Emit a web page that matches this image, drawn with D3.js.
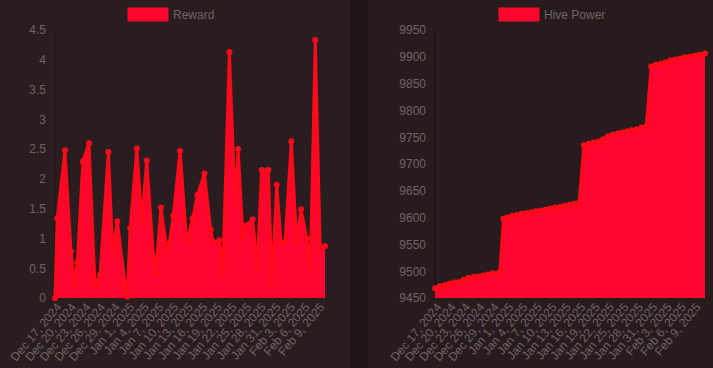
<!DOCTYPE html>
<html><head><meta charset="utf-8">
<script src="https://cdn.jsdelivr.net/npm/d3@7"></script>
<style>
html,body{margin:0;padding:0;background:#291c1f;}
svg{display:block;font-family:"Liberation Sans",Arial,sans-serif;}
</style></head><body>
<svg id="c" width="713" height="368"></svg>
<script>
const rewardDates = ["2024-12-17T00","2024-12-17T11","2024-12-19T01","2024-12-20T07","2024-12-21T02","2024-12-21T14","2024-12-22T17","2024-12-23T23","2024-12-25T05","2024-12-26T06","2024-12-27T23","2024-12-28T20","2024-12-29T19","2024-12-31T09","2024-12-31T20","2025-01-01T10","2025-01-02T19","2025-01-03T19","2025-01-04T20","2025-01-06T05","2025-01-06T16","2025-01-07T18","2025-01-08T23","2025-01-09T11","2025-01-10T07","2025-01-11T16","2025-01-13T01","2025-01-14T06","2025-01-15T05","2025-01-16T16","2025-01-17T23","2025-01-18T12","2025-01-19T18","2025-01-20T10","2025-01-21T19","2025-01-22T23","2025-01-23T14","2025-01-24T14","2025-01-25T07","2025-01-26T14","2025-01-27T12","2025-01-28T10","2025-01-29T19","2025-01-30T12","2025-01-31T12","2025-02-01T10","2025-02-02T05","2025-02-03T12","2025-02-04T14","2025-02-05T12","2025-02-06T17","2025-02-07T10","2025-02-08T10","2025-02-09T10","2025-02-10T10"];
const rewardValues = [0,1.34,2.48,0.78,0.25,0.59,2.29,2.6,0.22,0.39,2.45,0.8,1.29,0.25,0.02,1.17,2.51,1.3,2.31,0.69,0.42,1.52,0.8,0.92,1.39,2.47,0.94,1.34,1.73,2.09,1.14,0.94,0.97,0.41,4.13,1.6,2.5,1.03,1.22,1.32,0.53,2.15,2.15,0.25,1.9,0.92,0.94,2.63,0.97,1.49,1.0,0.55,4.33,0.86,0.87];

const hpDates = ["2024-12-17T00","2024-12-18T00","2024-12-19T00","2024-12-20T00","2024-12-21T00","2024-12-22T00","2024-12-23T00","2024-12-24T00","2024-12-25T00","2024-12-26T00","2024-12-27T00","2024-12-28T00","2024-12-29T00","2024-12-30T12","2024-12-31T06","2025-01-01T00","2025-01-02T00","2025-01-03T00","2025-01-04T00","2025-01-05T00","2025-01-06T00","2025-01-07T00","2025-01-08T00","2025-01-09T00","2025-01-10T00","2025-01-11T00","2025-01-12T00","2025-01-13T00","2025-01-14T00","2025-01-15T00","2025-01-16T00","2025-01-17T00","2025-01-18T00","2025-01-19T00","2025-01-20T00","2025-01-21T00","2025-01-22T00","2025-01-23T00","2025-01-24T00","2025-01-25T00","2025-01-26T00","2025-01-27T00","2025-01-28T00","2025-01-29T00","2025-01-30T00","2025-01-31T00","2025-02-01T00","2025-02-02T00","2025-02-03T00","2025-02-04T00","2025-02-05T00","2025-02-06T00","2025-02-07T00","2025-02-08T00","2025-02-09T00","2025-02-10T00","2025-02-11T05"];
const hpValues = [9468,9472,9474,9477,9479,9480,9484,9488,9489,9490,9492,9494,9496,9499,9598,9600,9603,9605,9607,9608,9610,9612,9613,9615,9617,9619,9620,9622,9624,9626,9628,9735,9738,9740,9742,9746,9752,9755,9757,9759,9761,9763,9765,9768,9771,9882,9885,9887,9890,9893,9895,9897,9899,9900,9902,9904,9906];

const tickDates = ["2024-12-17","2024-12-20","2024-12-23","2024-12-26","2024-12-29","2025-01-01","2025-01-04","2025-01-07","2025-01-10","2025-01-13","2025-01-16","2025-01-19","2025-01-22","2025-01-25","2025-01-28","2025-01-31","2025-02-03","2025-02-06","2025-02-09"];
const rewardTicks = [0,0.5,1,1.5,2,2.5,3,3.5,4,4.5];
const hpTicks = [9450,9500,9550,9600,9650,9700,9750,9800,9850,9900,9950];

const parseT = d3.timeParse("%Y-%m-%dT%H");
const parseD = d3.timeParse("%Y-%m-%d");
const fmt = d3.timeFormat("%b %-d, %Y");

const svg = d3.select("#c");
// background panels
svg.append("rect").attr("x",0).attr("y",0).attr("width",350).attr("height",368).attr("fill","#2a1d20");
svg.append("rect").attr("x",350).attr("y",0).attr("width",18).attr("height",368).attr("fill","#1e1416");
svg.append("rect").attr("x",368).attr("y",0).attr("width",345).attr("height",368).attr("fill","#281b1e");

function panel(opts){
  const {dates, values, yTicks, yDomain, left, right, label, legendX, yFmt} = opts;
  const data = dates.map((d,i)=>({t:parseT(d), v:values[i]}));
  const x = d3.scaleTime().domain(d3.extent(data,d=>d.t)).range([left,right]);
  const y = d3.scaleLinear().domain(yDomain).range([298,30]);
  const g = svg.append("g");
  // faint grid
  g.append("g").selectAll("line").data(tickDates.map(parseD)).join("line")
    .attr("x1",d=>x(d)).attr("x2",d=>x(d)).attr("y1",30).attr("y2",298)
    .attr("stroke","rgba(0,0,0,0.08)");
  g.append("line").attr("x1",left).attr("x2",left).attr("y1",30).attr("y2",298).attr("stroke","rgba(0,0,0,0.25)");
  const area = d3.area().x(d=>x(d.t)).y0(y(yDomain[0])).y1(d=>y(d.v));
  const line = d3.line().x(d=>x(d.t)).y(d=>y(d.v));
  g.append("path").datum(data).attr("d",area).attr("fill","#ff0530");
  g.append("path").datum(data).attr("d",line).attr("fill","none").attr("stroke","#ff0a1a").attr("stroke-width",3).attr("stroke-linejoin","round");
  g.append("g").selectAll("circle").data(data).join("circle")
    .attr("cx",d=>x(d.t)).attr("cy",d=>y(d.v)).attr("r",3).attr("fill","#ff0a1a");
  // y ticks
  const yAxis = d3.axisLeft(y).tickValues(yTicks).tickFormat(yFmt).tickSize(0).tickPadding(0);
  const ya = g.append("g").attr("transform",`translate(${left-9},0)`).call(yAxis);
  ya.select(".domain").remove();
  ya.selectAll("text").attr("fill","#6e6466").style("font-size","12px").style("font-family","'Liberation Sans',Arial,sans-serif");
  // x ticks
  const xAxis = d3.axisBottom(x).tickValues(tickDates.map(parseD)).tickFormat(fmt).tickSize(0).tickPadding(0);
  const xa = g.append("g").attr("transform","translate(0,302)").call(xAxis);
  xa.select(".domain").remove();
  xa.selectAll("text").attr("fill","#6e6466").style("font-size","12px").style("font-family","'Liberation Sans',Arial,sans-serif")
    .attr("text-anchor","end").attr("dy","0.7em").attr("y",0)
    .attr("transform","rotate(-50) translate(0,0)");
  // legend
  g.append("rect").attr("x",legendX).attr("y",8).attr("width",40).attr("height",13).attr("fill","#ff0530").attr("stroke","#ff0a1a").attr("stroke-width",1);
  g.append("text").attr("x",legendX+45).attr("y",19).attr("fill","#6e6466").style("font-size","12px").text(label);
}

panel({dates:rewardDates, values:rewardValues, yTicks:rewardTicks, yDomain:[0,4.5], left:55, right:325, label:"Reward", legendX:128, yFmt:d=>String(d)});
panel({dates:hpDates, values:hpValues, yTicks:hpTicks, yDomain:[9450,9950], left:435, right:705, label:"Hive Power", legendX:499, yFmt:d=>String(d)});
</script></body></html>
